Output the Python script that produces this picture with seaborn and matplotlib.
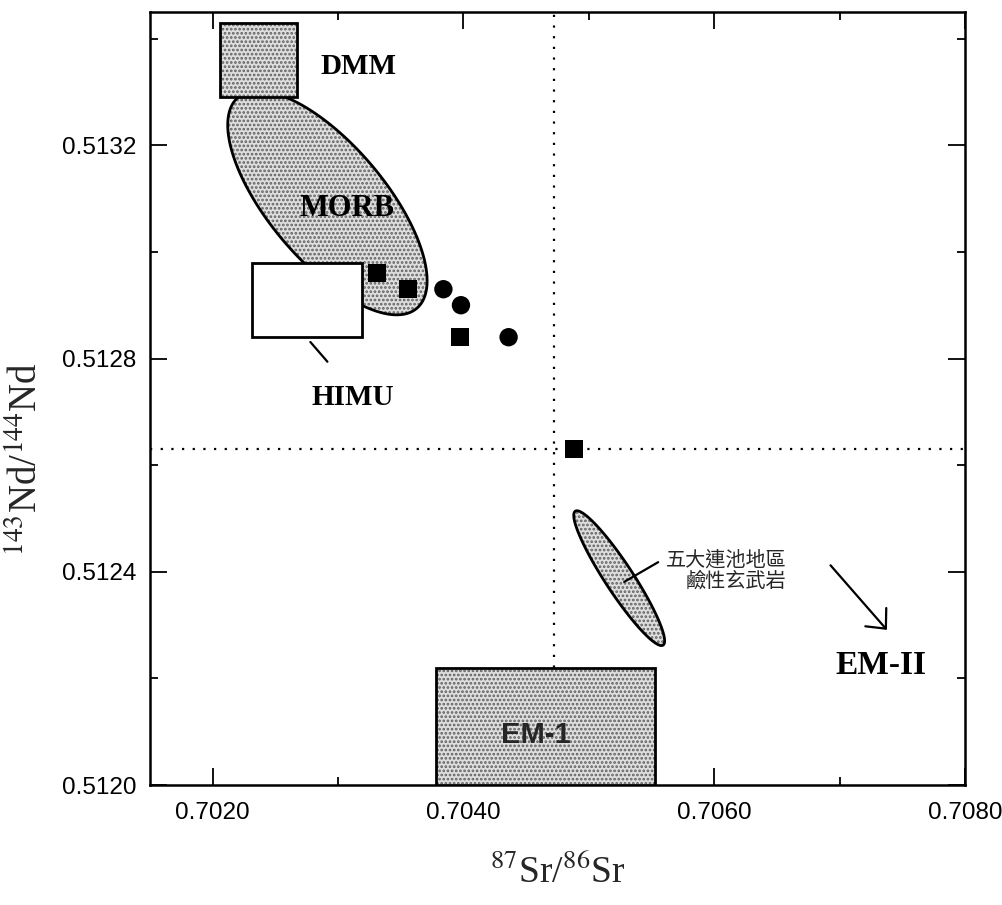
import numpy as np
import pandas as pd
import matplotlib
matplotlib.use("Agg")
import matplotlib.pyplot as plt
from matplotlib.patches import Rectangle, Polygon
from matplotlib.ticker import MultipleLocator, FixedLocator, FormatStrFormatter
import seaborn as sns

# Sr-Nd isotope ratios of the basalt samples
sq_sr = [0.70331, 0.70356, 0.70397, 0.70488]
sq_nd = [0.51296, 0.51293, 0.51284, 0.51263]
ci_sr = [0.70384, 0.70398, 0.70436]
ci_nd = [0.51293, 0.51290, 0.51284]

# rectangular mantle end-member fields: sr_min, sr_max, nd_min, nd_max
dmm_box = [0.70206, 0.70267, 0.51329, 0.51343]
himu_box = [0.70231, 0.70319, 0.51284, 0.51298]
em1_box = [0.70378, 0.70553, 0.51200, 0.51222]

# elliptical fields: centre and two conjugate semi-axis vectors (Sr, Nd)
morb_center = [0.702915, 0.513092]
morb_axis1 = [0.000712, -0.000198]
morb_axis2 = [0.000354, 0.0000702]
wdl_center = [0.705242, 0.512388]
wdl_axis1 = [0.000350, -0.0001256]
wdl_axis2 = [0.0000937, 0.0000144]

# bulk-earth reference values
bse_sr = 0.70472
bse_nd = 0.51263

x_ticks = [0.7020, 0.7040, 0.7060, 0.7080]
y_ticks = [0.5120, 0.5124, 0.5128, 0.5132]
x_lim = (0.7015, 0.7080)
y_lim = (0.5120, 0.51345)

sns.set_theme(style="ticks")
plt.rcParams["font.family"] = ["Liberation Sans", "DejaVu Sans"]
plt.rcParams["mathtext.fontset"] = "stix"
plt.rcParams["hatch.linewidth"] = 1.3

fig = plt.figure(figsize=(10.03, 9.05), dpi=100)
ax = fig.add_axes([150 / 1003, 1 - 785 / 905, 815 / 1003, 773 / 905])
ax.set_xlim(*x_lim)
ax.set_ylim(*y_lim)

STIPPLE_FACE = "#dedede"
STIPPLE_DOT = "#606060"


def stippled(patch_cls, *args, z=2, **kw):
    """Add a dotted-screen filled shape plus a solid black outline."""
    fill = patch_cls(*args, facecolor=STIPPLE_FACE, edgecolor=STIPPLE_DOT,
                     hatch="....", linewidth=0, zorder=z, **kw)
    edge = patch_cls(*args, facecolor="none", edgecolor="black",
                     linewidth=2.0, zorder=z + 0.1, **kw)
    ax.add_patch(fill)
    ax.add_patch(edge)


def ellipse_pts(center, a1, a2, n=240):
    t = np.linspace(0, 2 * np.pi, n)
    c = np.asarray(center)
    return (c[None, :] + np.cos(t)[:, None] * np.asarray(a1)[None, :]
            + np.sin(t)[:, None] * np.asarray(a2)[None, :])


def box_args(b):
    return (b[0], b[2]), b[1] - b[0], b[3] - b[2]


# MORB field, then DMM box on top of it
stippled(Polygon, ellipse_pts(morb_center, morb_axis1, morb_axis2), closed=True, z=2)
stippled(Rectangle, *box_args(dmm_box), z=3)
# HIMU: open box
ax.add_patch(Rectangle(*box_args(himu_box), facecolor="white", edgecolor="black",
                       linewidth=2.0, zorder=4))
# EM-1 field
stippled(Rectangle, *box_args(em1_box), z=3)
# Wudalianchi alkaline basalt field
stippled(Polygon, ellipse_pts(wdl_center, wdl_axis1, wdl_axis2), closed=True, z=3)

# bulk-earth dotted cross-lines
ax.axvline(bse_sr, color="black", linewidth=1.6, linestyle=(0, (1, 3.8)), zorder=1)
ax.axhline(bse_nd, color="black", linewidth=1.6, linestyle=(0, (1, 3.8)), zorder=1)

# samples
df = pd.DataFrame({
    "sr": sq_sr + ci_sr,
    "nd": sq_nd + ci_nd,
    "kind": ["square"] * len(sq_sr) + ["circle"] * len(ci_sr),
})
sns.scatterplot(data=df, x="sr", y="nd", style="kind",
                markers={"square": "s", "circle": "o"}, color="black",
                s=175, linewidth=0, legend=False, ax=ax, zorder=6)

# field labels
serif_bold = dict(family="Liberation Serif", fontweight="bold", color="black",
                  ha="center", va="center", zorder=7)
ax.text(0.703163, 0.513347, "DMM", fontsize=21, **serif_bold)
ax.text(0.703070, 0.513082, "MORB", fontsize=22, **serif_bold)
ax.text(0.703115, 0.512726, "HIMU", fontsize=21, **serif_bold)
ax.text(0.707328, 0.512225, "EM-II", fontsize=24, **serif_bold)
ax.text(0.704578, 0.512094, "EM-1", fontsize=21, fontweight="bold",
        family="Liberation Sans", ha="center", va="center", zorder=7)
ax.text(0.706577, 0.512402, "五大連池地區\n鹼性玄武岩", fontsize=14.5,
        family=["Noto Sans CJK TC", "DejaVu Sans"], ha="right", va="center",
        multialignment="right", linespacing=1.05, zorder=7)

# leader lines and EM-II trend arrow
ax.plot([0.702779, 0.702915], [0.512831, 0.512794], color="black", linewidth=1.6, zorder=5)
ax.plot([0.705282, 0.705553], [0.512381, 0.512418], color="black", linewidth=1.6, zorder=5)
ax.annotate("", xy=(0.707392, 0.512287), xytext=(0.706913, 0.512416),
            arrowprops=dict(arrowstyle="->,head_length=0.55,head_width=0.5",
                            color="black", linewidth=1.6, mutation_scale=20),
            zorder=7)

# axes, ticks and labels
ax.xaxis.set_major_locator(FixedLocator(x_ticks))
ax.xaxis.set_minor_locator(MultipleLocator(0.0010))
ax.yaxis.set_major_locator(FixedLocator(y_ticks))
ax.yaxis.set_minor_locator(MultipleLocator(0.0002))
ax.xaxis.set_major_formatter(FormatStrFormatter("%.4f"))
ax.yaxis.set_major_formatter(FormatStrFormatter("%.4f"))
ax.tick_params(which="both", direction="in", top=True, right=True,
               color="black", width=1.3)
ax.tick_params(which="major", length=12, labelsize=17.5, labelcolor="black")
ax.tick_params(which="minor", length=6)
ax.tick_params(axis="x", which="major", pad=12)
ax.tick_params(axis="y", which="major", pad=10)
for s in ax.spines.values():
    s.set_visible(True)
    s.set_linewidth(1.8)
    s.set_color("black")

ax.set_xlabel(r"$^{87}$Sr/$^{86}$Sr", family="Liberation Serif", fontsize=27)
ax.set_ylabel(r"$^{143}$Nd/$^{144}$Nd", family="Liberation Serif", fontsize=28)
ax.xaxis.set_label_coords(0.5, (785 - 873) / 773)
ax.xaxis.label.set_va("center")
ax.yaxis.set_label_coords((28 - 150) / 815, (785 - 459) / 773)
ax.yaxis.label.set_va("center")

fig.savefig("out.png", dpi=100, facecolor="white")
